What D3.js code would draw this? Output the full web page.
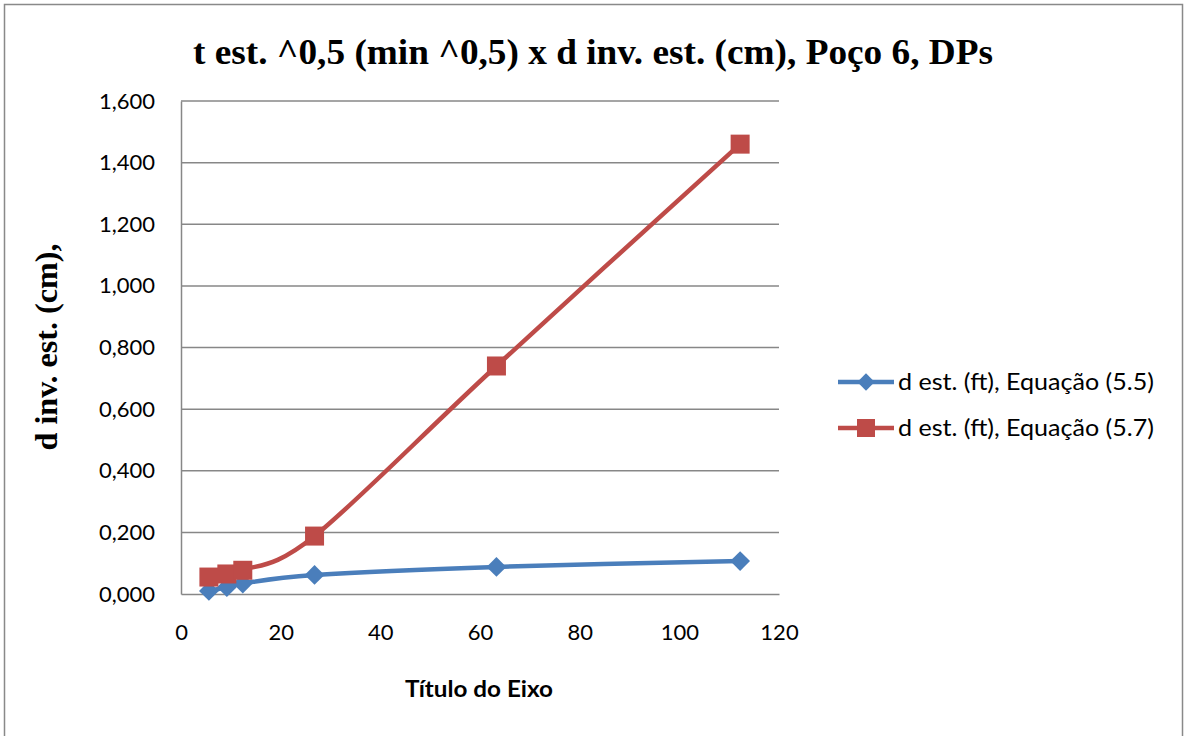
<!DOCTYPE html>
<html>
<head>
<meta charset="utf-8">
<script src="https://cdn.jsdelivr.net/npm/d3@7"></script>
<style>
  html, body { margin: 0; padding: 0; background: #fff; }
  svg { display: block; }
</style>
</head>
<body>
<svg id="chart" width="1184" height="736"></svg>
<script>
// t^0.5 (min^0.5) for each measurement
const tSqrt = [5.6, 9.2, 12.4, 26.8, 63.3, 112.2];
// d est. (ft), Equação (5.5)
const dEq55 = [0.010, 0.022, 0.034, 0.062, 0.088, 0.107];
// d est. (ft), Equação (5.7)
const dEq57 = [0.055, 0.065, 0.077, 0.188, 0.740, 1.460];

const xTicks = [0, 20, 40, 60, 80, 100, 120];
const yTicks = [0, 0.2, 0.4, 0.6, 0.8, 1.0, 1.2, 1.4, 1.6];

const seriesNames = ["d est. (ft), Equação (5.5)", "d est. (ft), Equação (5.7)"];
const seriesColors = ["#4A7EBB", "#BE4B48"];

const svg = d3.select("#chart");
const plot = { left: 181, right: 779, top: 101, bottom: 594 };

// chart frame
svg.append("rect")
  .attr("x", 4.5).attr("y", 4.5)
  .attr("width", 1178).attr("height", 740)
  .attr("fill", "#fff")
  .attr("stroke", "#898989").attr("stroke-width", 1.5);

const x = d3.scaleLinear().domain([0, 120]).range([plot.left, plot.right]);
const y = d3.scaleLinear().domain([0, 1.6]).range([plot.bottom, plot.top]);

// 1.4 -> "1,400"; 0.2 -> "0,200"
const yLabel = v => {
  const s = v.toFixed(3).split(".");
  return s[0] + "," + s[1];
};

// horizontal gridlines
svg.append("g")
  .selectAll("line")
  .data(yTicks.filter(v => v > 0))
  .join("line")
  .attr("x1", plot.left).attr("x2", plot.right)
  .attr("y1", d => y(d)).attr("y2", d => y(d))
  .attr("stroke", "#878787").attr("stroke-width", 1.5);

// axes
const tickFont = "Lato, 'Open Sans', sans-serif";
const yAxis = svg.append("g")
  .attr("transform", `translate(${plot.left},0)`)
  .call(d3.axisLeft(y).tickValues(yTicks).tickFormat(yLabel).tickSize(0).tickPadding(26));
const xAxis = svg.append("g")
  .attr("transform", `translate(0,${plot.bottom})`)
  .call(d3.axisBottom(x).tickValues(xTicks).tickFormat(d3.format("d")).tickSize(0).tickPadding(30));

[yAxis, xAxis].forEach(g => {
  g.select(".domain").attr("stroke", "#878787").attr("stroke-width", 1.5);
  g.selectAll("text")
    .attr("font-family", tickFont)
    .attr("font-size", 22)
    .attr("fill", "#000");
});

// series lines (smoothed) and markers
const line = d3.line()
  .x(d => x(d[0]))
  .y(d => y(d[1]))
  .curve(d3.curveCatmullRom.alpha(0));

const seriesData = [dEq55, dEq57].map(vals => tSqrt.map((t, i) => [t, vals[i]]));

const diamond = d3.symbol().type(d3.symbolSquare).size(196);

seriesData.forEach((pts, si) => {
  const g = svg.append("g");
  g.append("path")
    .datum(pts)
    .attr("d", line)
    .attr("fill", "none")
    .attr("stroke", seriesColors[si])
    .attr("stroke-width", 4.5)
    .attr("stroke-linejoin", "round");
  if (si === 0) {
    g.selectAll("path.mk")
      .data(pts)
      .join("path")
      .attr("class", "mk")
      .attr("d", diamond)
      .attr("transform", d => `translate(${x(d[0])},${y(d[1])}) rotate(45)`)
      .attr("fill", seriesColors[si]);
  } else {
    g.selectAll("rect.mk")
      .data(pts)
      .join("rect")
      .attr("class", "mk")
      .attr("x", d => x(d[0]) - 9.5)
      .attr("y", d => y(d[1]) - 9.5)
      .attr("width", 19).attr("height", 19)
      .attr("fill", seriesColors[si]);
  }
});

// title
svg.append("text")
  .attr("x", 593).attr("y", 64)
  .attr("text-anchor", "middle")
  .attr("font-family", "'Liberation Serif', 'Times New Roman', serif")
  .attr("font-weight", "bold")
  .attr("font-size", 36)
  .attr("textLength", 800)
  .attr("lengthAdjust", "spacingAndGlyphs")
  .text("t est. ^0,5 (min ^0,5) x d inv. est. (cm), Poço 6, DPs");

// y axis title
svg.append("text")
  .attr("transform", `translate(57,347) rotate(-90)`)
  .attr("text-anchor", "middle")
  .attr("font-family", "'Liberation Serif', 'Times New Roman', serif")
  .attr("font-weight", "bold")
  .attr("font-size", 31)
  .attr("textLength", 207)
  .attr("lengthAdjust", "spacingAndGlyphs")
  .text("d inv. est. (cm),");

// x axis title
svg.append("text")
  .attr("x", 479).attr("y", 697)
  .attr("text-anchor", "middle")
  .attr("font-family", tickFont)
  .attr("font-weight", "bold")
  .attr("font-size", 22)
  .attr("textLength", 148)
  .attr("lengthAdjust", "spacingAndGlyphs")
  .text("Título do Eixo");

// legend
const legend = svg.append("g");
const legendY = [382, 428];
seriesNames.forEach((name, i) => {
  const lg = legend.append("g").attr("transform", `translate(0,${legendY[i]})`);
  lg.append("line")
    .attr("x1", 838).attr("x2", 894).attr("y1", 0).attr("y2", 0)
    .attr("stroke", seriesColors[i]).attr("stroke-width", 4.5);
  if (i === 0) {
    lg.append("path")
      .attr("d", d3.symbol().type(d3.symbolSquare).size(150))
      .attr("transform", "translate(866,0) rotate(45)")
      .attr("fill", seriesColors[i]);
  } else {
    lg.append("rect")
      .attr("x", 857).attr("y", -9).attr("width", 18).attr("height", 18)
      .attr("fill", seriesColors[i]);
  }
  lg.append("text")
    .attr("x", 898).attr("y", 8)
    .attr("font-family", tickFont)
    .attr("font-size", 23)
    .attr("textLength", 256)
    .attr("lengthAdjust", "spacingAndGlyphs")
    .text(name);
});
</script>
</body>
</html>
